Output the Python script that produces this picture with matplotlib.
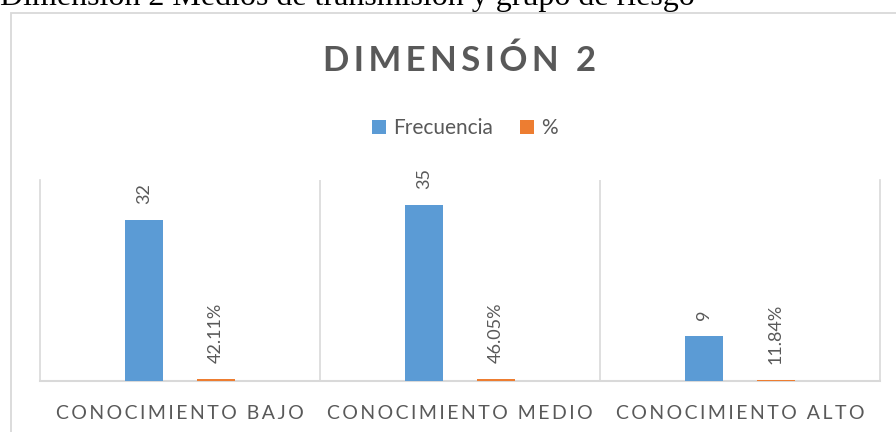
import matplotlib
matplotlib.use("Agg")
import matplotlib.pyplot as plt
from matplotlib.patches import Rectangle

# datos de la figura
categorias = ["CONOCIMIENTO BAJO", "CONOCIMIENTO MEDIO", "CONOCIMIENTO ALTO"]
frecuencia = [32, 35, 9]
porcentaje = [0.4211, 0.4605, 0.1184]
titulo = "DIMENSIÓN 2"
leyenda = ["Frecuencia", "%"]
encabezado = "Dimensión 2 Medios de transmisión y grupo de riesgo"

AZUL = "#5B9BD5"
NARANJA = "#ED7D31"
GRIS = "#595959"
LINEA = "#D9D9D9"
FUENTE = ["Lato", "DejaVu Sans"]


def espaciado(texto, sep="\u2009"):
    # simula el espaciado entre letras de Excel
    return sep.join(texto)


W, H = 896, 432
fig = plt.figure(figsize=(W / 100, H / 100), dpi=100)

# texto del documento, cortado arriba
fig.text(0, 1 - 5 / H, encabezado, family="Liberation Serif", fontsize=23,
         color="black", va="baseline", ha="left")

# marco del gráfico
fig.patches.append(Rectangle((11 / W, -0.1), 1.2, 1 - 13 / H + 0.1,
                             transform=fig.transFigure, fill=False,
                             edgecolor=LINEA, linewidth=1.3, clip_on=False))

ax = fig.add_axes([40 / W, 1 - 381 / H, 840 / W, 201 / H])

x = range(len(categorias))
off = 36 / 280
ancho = 38 / 280
b1 = ax.bar([i - off for i in x], frecuencia, width=ancho, color=AZUL, zorder=3)
b2 = ax.bar([i + off for i in x], porcentaje, width=ancho, color=NARANJA, zorder=3)

for rect, v in zip(b1, frecuencia):
    ax.annotate(f"{v}", (rect.get_x() + rect.get_width() / 2, rect.get_height()),
                xytext=(0, 16), textcoords="offset pixels", rotation=90,
                ha="center", va="bottom", color=GRIS, fontsize=13, family=FUENTE)
for rect, v in zip(b2, porcentaje):
    ax.annotate(f"{v * 100:.2f}%", (rect.get_x() + rect.get_width() / 2, rect.get_height()),
                xytext=(0, 16), textcoords="offset pixels", rotation=90,
                ha="center", va="bottom", color=GRIS, fontsize=13, family=FUENTE)

ax.set_xlim(-0.5, len(categorias) - 0.5)
ax.set_ylim(0, 40)
ax.set_yticks([])
ax.set_xticks(list(x))
ax.set_xticklabels([espaciado(c) for c in categorias], color=GRIS, fontsize=14,
                   family=FUENTE)
ax.tick_params(axis="x", length=0, pad=17)
for i in range(1, len(categorias)):
    ax.axvline(i - 0.5, color=LINEA, linewidth=1.2, zorder=1)
for lado in ["left", "right"]:
    ax.spines[lado].set_color(LINEA)
    ax.spines[lado].set_linewidth(1.2)
ax.spines["top"].set_visible(False)
ax.spines["bottom"].set_color(LINEA)
ax.spines["bottom"].set_linewidth(1.5)

fig.text(460 / W, 1 - 61 / H, espaciado(titulo), ha="center", va="center",
         fontsize=25, fontweight="bold", color=GRIS, family=FUENTE)

fig.legend([b1, b2], leyenda, loc="center", bbox_to_anchor=(465 / W, 1 - 128 / H),
           ncol=2, frameon=False, prop={"family": FUENTE, "size": 15},
           labelcolor=GRIS, handlelength=0.65, handleheight=0.65, handletextpad=0.35,
           columnspacing=1.3)

fig.savefig("out.png", dpi=100)
